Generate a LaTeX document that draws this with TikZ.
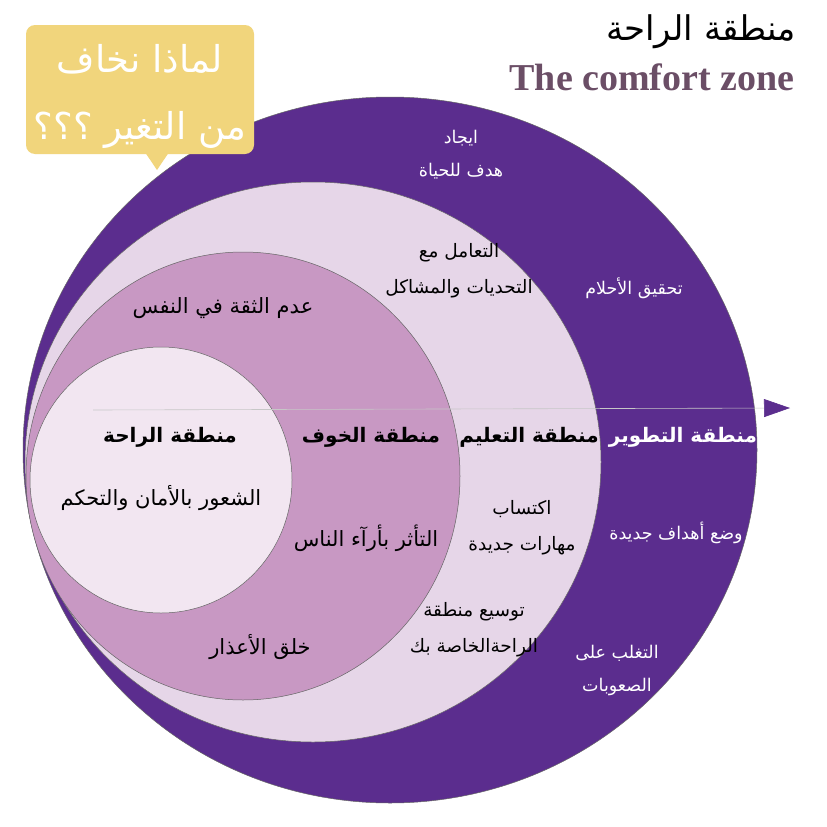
\documentclass[tikz,border=0pt]{standalone}
\usepackage{fontspec}
\usetikzlibrary{arrows.meta,calc}

\TeXXeTstate=1
\newfontfamily\arabicfont[Script=Arabic]{DejaVu Sans}
\newfontfamily\titlefont{Liberation Serif}

\definecolor{devpurple}{HTML}{5B2D8E}
\definecolor{learnlilac}{HTML}{E6D6E8}
\definecolor{fearpink}{HTML}{C898C3}
\definecolor{comfortpale}{HTML}{F2E6F1}
\definecolor{boxyellow}{HTML}{F1D57C}
\definecolor{titlegray}{HTML}{6B4E66}

% one right-to-left line
\newcommand{\arline}[1]{\beginR #1\endR}

\begin{document}
\begin{tikzpicture}[
  x=1pt, y=-1pt,
  zoneedge/.style={draw=black!60, line width=0.5pt},
  zonehead/.style={font=\arabicfont\bfseries\fontsize{20}{26}\selectfont},
  zonenote/.style={align=center, font=\arabicfont\fontsize{21}{36}\selectfont},
  learnnote/.style={align=center, font=\arabicfont\fontsize{18.5}{36}\selectfont},
  devnote/.style={align=center, text=white, font=\arabicfont\fontsize{17.5}{33}\selectfont}
]

% page
\fill[white] (0,0) rectangle (827,827);
\useasboundingbox (0,0) rectangle (827,827);

% nested zones, all touching on the left
\draw[zoneedge, fill=devpurple]   (390,450) ellipse [x radius=367, y radius=353];
\draw[zoneedge, fill=learnlilac]  (313,462) ellipse [x radius=288, y radius=280];
\draw[zoneedge, fill=fearpink]    (243,476) ellipse [x radius=217, y radius=224];
\draw[zoneedge, fill=comfortpale] (161,480) ellipse [x radius=131, y radius=133];

% axis across the zones
\coordinate (axisstart) at (93,410);
\coordinate (axisend) at (790,408);
\draw[black!22, line width=0.6pt,
      -{Triangle[length=26pt, width=18pt, color=devpurple]}]
      (axisstart) -- (axisend);

% zone names under the axis
\node[zonehead] (comforthead) at (170,437) {\arline{منطقة الراحة}};
\node[zonehead] (fearhead) at (371,437) {\arline{منطقة الخوف}};
\node[zonehead] (learnhead) at (529,437) {\arline{منطقة التعليم}};
\node[zonehead, text=white] (devhead) at (683,437) {\arline{منطقة التطوير}};

% comfort and fear zones
\node[zonenote] (safety) at (161,498) {\arline{الشعور بالأمان والتحكم}};
\node[zonenote] (selfdoubt) at (223,308) {\arline{عدم الثقة في النفس}};
\node[zonenote] (opinions) at (366,538) {\arline{التأثر بأرآء الناس}};
\node[zonenote] (excuses) at (260,647) {\arline{خلق الأعذار}};

% learning zone
\node[learnnote] (challenges) at (459,271)
     {\arline{التعامل مع}\\\arline{التحديات والمشاكل}};
\node[learnnote] (skills) at (522,528)
     {\arline{اكتساب}\\\arline{مهارات جديدة}};
\node[learnnote] (expand) at (474,630)
     {\arline{توسيع منطقة}\\\arline{الراحةالخاصة بك}};

% development zone
\node[devnote] (purpose) at (461,155)
     {\arline{ايجاد}\\\arline{هدف للحياة}};
\node[devnote] (dreams) at (634,288) {\arline{تحقيق الأحلام}};
\node[devnote] (newgoals) at (676,533) {\arline{وضع أهداف جديدة}};
\node[devnote] (hardship) at (617,670)
     {\arline{التغلب على}\\\arline{الصعوبات}};

% title
\node[font=\arabicfont\fontsize{34}{38}\selectfont] (titlear) at (701,32)
     {\arline{منطقة الراحة}};
\node[font=\titlefont\bfseries\fontsize{38}{42}\selectfont, text=titlegray] (titleen) at (652,77)
     {The comfort zone};

% speech bubble
\node[fill=boxyellow, rounded corners=9pt, minimum width=228pt, minimum height=129pt]
     (whybox) at (140,89.5) {};
\coordinate (whytip) at (157,170);
\fill[boxyellow] ($(whybox.south)+(5,-2)$) -- ++(24,0) -- (whytip) -- cycle;
\node[align=center, text=white, font=\arabicfont\fontsize{37}{67}\selectfont]
     (whytext) at (140,96)
     {\arline{لماذا نخاف}\\\arline{من التغير ؟؟؟}};

\end{tikzpicture}
\end{document}
